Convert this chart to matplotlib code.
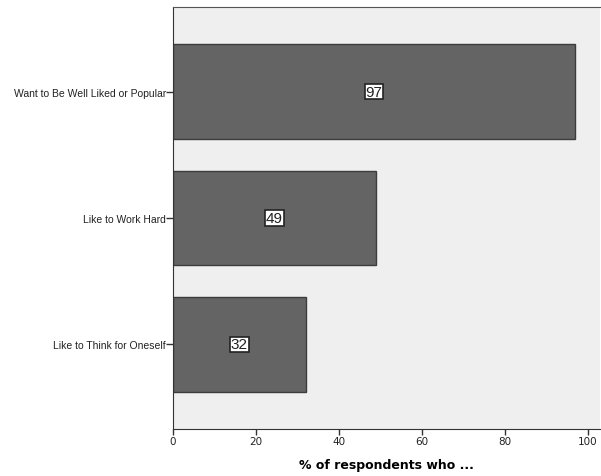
import matplotlib
matplotlib.use("Agg")
import matplotlib.pyplot as plt

categories = ["Want to Be Well Liked or Popular", "Like to Work Hard", "Like to Think for Oneself"]
values = [97, 49, 32]
xticks = [0, 20, 40, 60, 80, 100]
xlabel = "% of respondents who ..."

fig = plt.figure(figsize=(6.01, 4.77), dpi=100)
ax = fig.add_axes([173/601, 1-430/477, 427/601, 422/477])
ax.set_facecolor("#efefef")
pos = list(range(len(categories)))
ax.barh(pos, values, height=0.75, color="#646464", edgecolor="#3c3c3c", linewidth=1.0, zorder=2)
for p, v in zip(pos, values):
    ax.text(v/2, p, str(v), ha="center", va="center", fontsize=11, family="Liberation Sans",
            color="#222222", zorder=3,
            bbox=dict(boxstyle="square,pad=0.05", facecolor="white", edgecolor="#222222", linewidth=1.2))
ax.set_yticks(pos)
ax.set_yticklabels(categories, fontsize=7.5, family="Liberation Sans", color="#222222")
ax.set_ylim(2.67, -0.67)
ax.set_xlim(0, 103)
ax.set_xticks(xticks)
ax.set_xticklabels([str(t) for t in xticks], fontsize=7.5, family="DejaVu Sans", color="#222222")
ax.set_xlabel(xlabel, fontsize=9, fontweight="bold", labelpad=9)
ax.spines["right"].set_visible(False)
ax.spines["top"].set_color("#555555")
ax.spines["left"].set_color("#333333")
ax.spines["bottom"].set_color("#333333")
ax.tick_params(axis="y", length=5, width=1, color="#333333", pad=0)
ax.tick_params(axis="x", length=4, width=1, color="#333333", pad=1)
fig.savefig("out.png", dpi=100, facecolor="white")
